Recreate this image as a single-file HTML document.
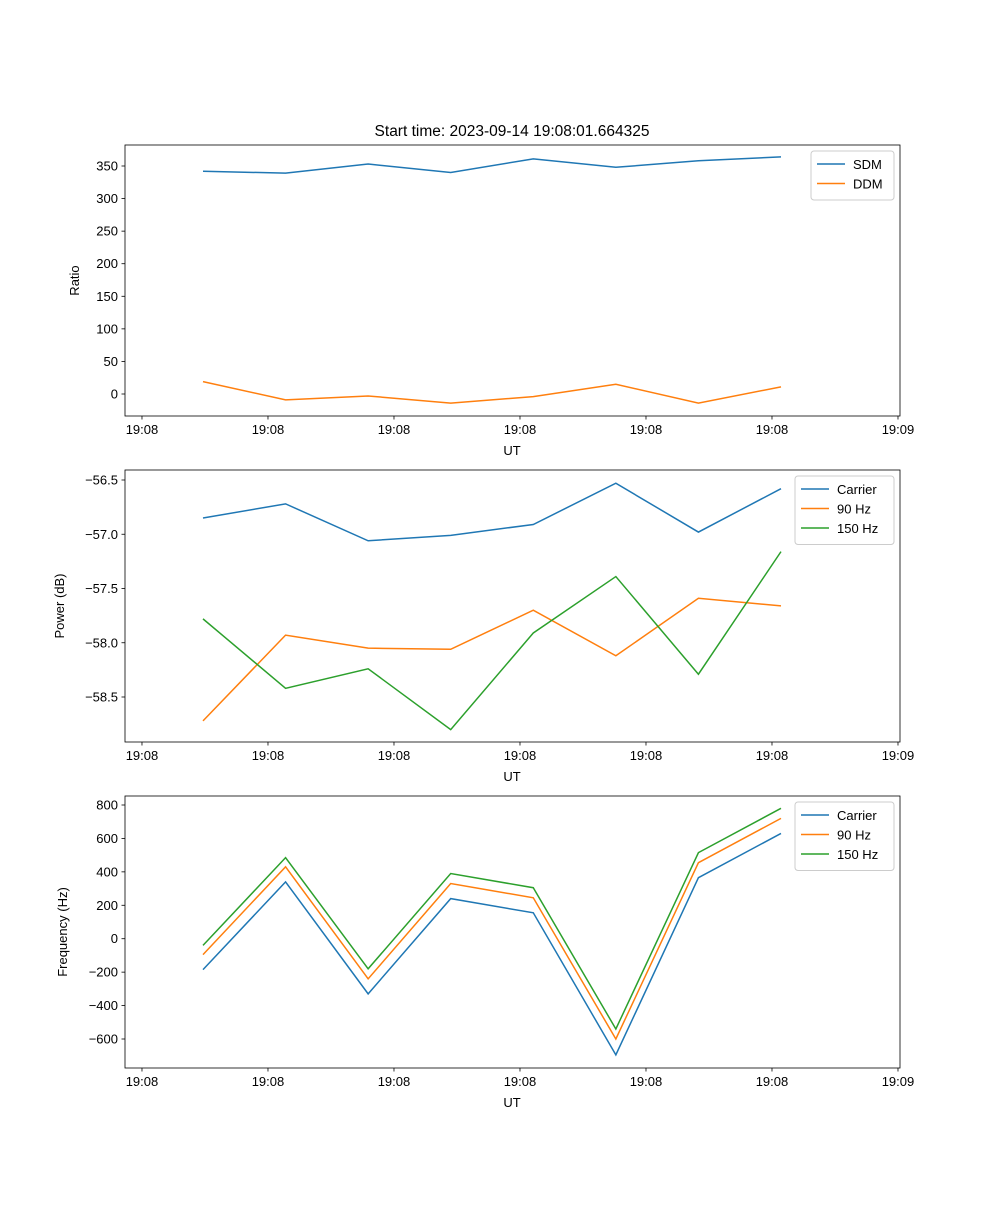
<!DOCTYPE html>
<html><head><meta charset="utf-8"><style>
body{margin:0;background:#fff}
svg text{font-family:"Liberation Sans","DejaVu Sans",sans-serif;font-size:13px;fill:#000}
</style></head><body>
<svg id="fig" width="1000" height="1200" xmlns="http://www.w3.org/2000/svg">
<rect width="1000" height="1200" fill="#fff"/>
<text x="512" y="136" text-anchor="middle" style="font-size:15.5px">Start time: 2023-09-14 19:08:01.664325</text>
</svg>
<script>
const xIdx=[0,1,2,3,4,5,6,7];
const xTickVals=[-0.739,0.787,2.313,3.839,5.365,6.891,8.417];
const xTickLabels=["19:08","19:08","19:08","19:08","19:08","19:08","19:09"];
const sdm=[342,339,353,340,361,348,358,364];
const ddm=[19,-9,-3,-14,-4,15,-14,11];
const pCarrier=[-56.85,-56.72,-57.06,-57.01,-56.91,-56.53,-56.98,-56.58];
const p90=[-58.72,-57.93,-58.05,-58.06,-57.70,-58.12,-57.59,-57.66];
const p150=[-57.78,-58.42,-58.24,-58.80,-57.91,-57.39,-58.29,-57.16];
const fCarrier=[-185,340,-330,240,155,-695,365,630];
const f90=[-95,430,-240,330,245,-600,455,720];
const f150=[-40,485,-180,390,305,-540,515,780];
const y1Ticks=[0,50,100,150,200,250,300,350];
const y2Ticks=[-58.5,-58.0,-57.5,-57.0,-56.5];
const y3Ticks=[-600,-400,-200,0,200,400,600,800];
const C=["#1f77b4","#ff7f0e","#2ca02c"];
const svg=document.getElementById('fig');
const NS="http://www.w3.org/2000/svg";
function mk(tag,attrs,parent){const e=document.createElementNS(NS,tag);for(const k in attrs)e.setAttribute(k,attrs[k]);(parent||svg).appendChild(e);return e;}
const L=125,R=900;
const xs=i=>203+i*82.57;
function panel(top,bot,yv1,yp1,yv2,yp2,yTicks,fmt,ylabel,ylx,series,names,legW,name){
  const g=mk('g',{});
  
  
  const ys=v=>yp1+(v-yv1)*(yp2-yp1)/(yv2-yv1);
  series.forEach((s,k)=>{
    const pl=mk('polyline',{points:s.map((v,i)=>xs(xIdx[i])+','+ys(v)).join(' '),fill:'none',stroke:C[k],'stroke-width':1.5},g);
    
    
  });
  mk('rect',{x:L,y:top,width:R-L,height:bot-top,fill:'none',stroke:'#000','stroke-width':0.8},g);
  xTickVals.forEach((t,i)=>{const x=xs(t);mk('line',{x1:x,x2:x,y1:bot,y2:bot+3.5,stroke:'#000','stroke-width':0.8},g);
    const tx=mk('text',{x:x,y:bot+18,'text-anchor':'middle'},g);tx.textContent=xTickLabels[i];
    });
  yTicks.forEach(t=>{const y=ys(t);mk('line',{x1:L-3.5,x2:L,y1:y,y2:y,stroke:'#000','stroke-width':0.8},g);
    const tx=mk('text',{x:L-7,y:y+4.5,'text-anchor':'end'},g);tx.textContent=fmt(t);
    });
  const xl=mk('text',{x:512,y:bot+39,'text-anchor':'middle'},g);xl.textContent='UT';
  
  const yl=mk('text',{x:ylx,y:(top+bot)/2,'text-anchor':'middle',transform:`rotate(-90 ${ylx} ${(top+bot)/2})`},g);yl.textContent=ylabel;
  
  const lx=R-6-legW,ly=top+6,lh=10+names.length*19.5;
  const lg=mk('g',{},g);
  
  mk('rect',{x:lx,y:ly,width:legW,height:lh,rx:3,fill:'#fff','fill-opacity':0.8,stroke:'#ccc'},lg);
  names.forEach((n,k)=>{const yy=ly+13+k*19.5;
    mk('line',{x1:lx+6,x2:lx+34,y1:yy,y2:yy,stroke:C[k],'stroke-width':1.5},lg);
    const t=mk('text',{x:lx+42,y:yy+5},lg);t.textContent=n;
    });
}
panel(145,416,350,166,0,394,y1Ticks,v=>v.toString(),'Ratio',79,[sdm,ddm],['SDM','DDM'],83,'ratio-panel');
panel(470,742,-56.5,480,-58.5,697,y2Ticks,v=>(v<0?'\u2212':'')+Math.abs(v).toFixed(1),'Power (dB)',64,[pCarrier,p90,p150],['Carrier','90 Hz','150 Hz'],99,'power-panel');
panel(796,1068,800,805,-600,1039,y3Ticks,v=>(v<0?'\u2212':'')+Math.abs(v),'Frequency (Hz)',67,[fCarrier,f90,f150],['Carrier','90 Hz','150 Hz'],99,'frequency-panel');
</script>
</body></html>
